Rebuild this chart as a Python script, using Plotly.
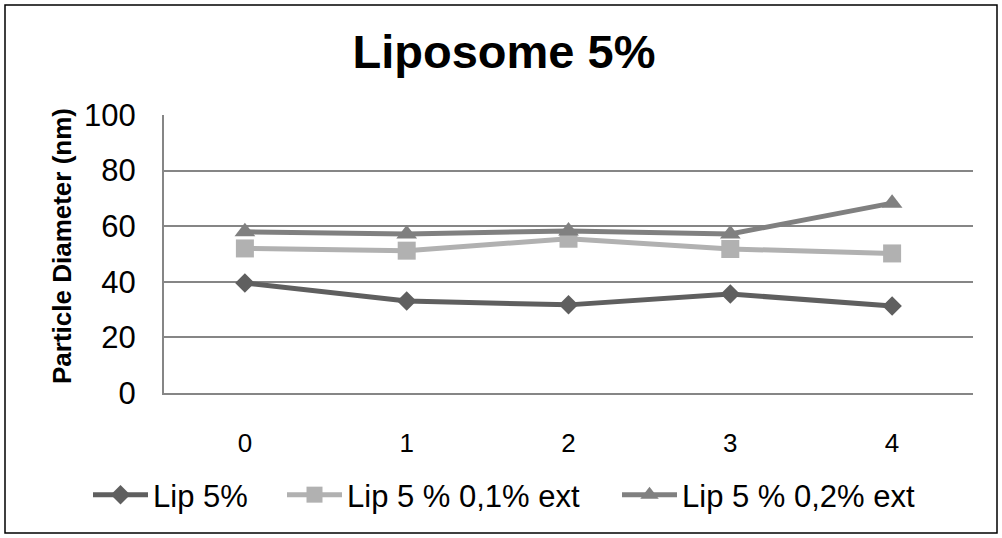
import plotly.graph_objects as go

categories = ["0", "1", "2", "3", "4"]
lip5 = [39.6, 33.1, 31.7, 35.6, 31.3]
lip5_01 = [52.0, 51.2, 55.5, 51.8, 50.2]
lip5_02 = [58.0, 57.2, 58.3, 57.2, 68.3]
series_names = ["Lip 5%", "Lip 5 % 0,1% ext", "Lip 5 % 0,2% ext"]
y_title = "Particle Diameter (nm)"

FONT = "Liberation Sans, Arial, sans-serif"
PL, PR, PT, PB = 164, 973, 115, 393
PW, PH = PR - PL, PB - PT


def px_x(p):
    return (p - PL) / PW


def px_y(p):
    return (PB - p) / PH


fig = go.Figure()
fig.add_trace(go.Scatter(x=categories, y=lip5, name=series_names[0], mode="lines+markers",
                         line=dict(color="#5f5f5f", width=5),
                         marker=dict(symbol="diamond", size=15, color="#5f5f5f"),
                         legend="legend"))
fig.add_trace(go.Scatter(x=categories, y=lip5_01, name=series_names[1], mode="lines+markers",
                         line=dict(color="#b1b1b1", width=5),
                         marker=dict(symbol="square", size=18, color="#b1b1b1"),
                         legend="legend2"))
fig.add_trace(go.Scatter(x=categories, y=lip5_02, name=series_names[2], mode="lines+markers",
                         line=dict(color="#808080", width=5),
                         marker=dict(symbol="triangle-up", size=18, color="#808080"),
                         legend="legend3"))

leg_common = dict(orientation="h", xanchor="left", y=px_y(495), yanchor="middle",
                  font=dict(size=31, family=FONT, color="black"), itemwidth=55,
                  bgcolor="rgba(0,0,0,0)")

fig.update_layout(
    width=1002, height=538,
    margin=dict(l=PL, r=1002 - PR, t=PT, b=538 - PB),
    paper_bgcolor="white", plot_bgcolor="white",
    font=dict(family=FONT, color="black"),
    title=dict(text="<b>Liposome 5%</b>", font=dict(size=47, family=FONT, color="black"),
               x=0.503, xref="container", xanchor="center",
               y=1 - 52 / 538, yref="container", yanchor="middle"),
    xaxis=dict(type="category", range=[-0.5, 4.5], showgrid=False,
               showline=True, linecolor="#868686", linewidth=2,
               ticks="outside", ticklen=26, tickcolor="white",
               tickfont=dict(size=26, family=FONT, color="black")),
    yaxis=dict(range=[0, 100], dtick=20, showgrid=True, gridcolor="#868686", gridwidth=2,
               showline=True, linecolor="#868686", linewidth=2, zeroline=False,
               ticks="outside", ticklen=20, tickcolor="white",
               tickfont=dict(size=31, family=FONT, color="black")),
    legend=dict(x=px_x(88), **leg_common),
    legend2=dict(x=px_x(282), **leg_common),
    legend3=dict(x=px_x(617), **leg_common),
    showlegend=True,
)

fig.add_annotation(text="<b>" + y_title + "</b>", textangle=-90, showarrow=False,
                   xref="paper", yref="paper", x=px_x(62), y=px_y(246),
                   xanchor="center", yanchor="middle",
                   font=dict(size=26, family=FONT, color="black"))

fig.add_shape(type="rect", xref="paper", yref="paper",
              x0=px_x(5), x1=px_x(997), y0=px_y(533), y1=px_y(5),
              line=dict(color="black", width=1.5), fillcolor="rgba(0,0,0,0)", layer="below")

fig.write_html("out.html")
